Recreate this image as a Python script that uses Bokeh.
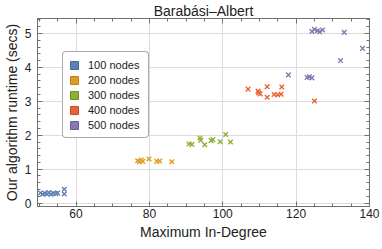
from bokeh.plotting import figure
from bokeh.models import (Range1d, FixedTicker, LinearAxis, Legend, LegendItem,
                          ColumnDataSource)
from bokeh.embed import file_html
from bokeh.resources import INLINE

# ---------------- data ----------------
series_labels = ["100 nodes", "200 nodes", "300 nodes", "400 nodes", "500 nodes"]
series_colors = ["#5E81B5", "#E19C24", "#8FB032", "#EB6235", "#8778B3"]
swatch_edges = ["#4A6A99", "#B97F1C", "#728D28", "#C14F2A", "#6C5F92"]

x100 = [50.3, 50.9, 51.5, 52.1, 52.6, 53.2, 53.8, 54.5, 55.0, 56.8, 56.8]
y100 = [0.30, 0.26, 0.29, 0.27, 0.31, 0.26, 0.29, 0.28, 0.30, 0.41, 0.27]

x200 = [76.8, 77.3, 77.8, 78.2, 79.9, 82.0, 82.8, 86.1]
y200 = [1.25, 1.22, 1.27, 1.23, 1.30, 1.23, 1.24, 1.22]

x300 = [90.8, 91.6, 93.8, 94.0, 95.1, 96.8, 97.3, 99.3, 100.8, 102.1]
y300 = [1.74, 1.73, 1.92, 1.85, 1.72, 1.84, 1.87, 1.81, 2.02, 1.80]

x400 = [106.9, 109.6, 109.8, 110.2, 112.1, 112.1, 114.0, 115.0, 115.9, 116.1, 125.0]
y400 = [3.36, 3.30, 3.25, 3.22, 3.43, 3.12, 3.20, 3.19, 3.21, 3.42, 3.01]

x500 = [117.9, 123.0, 123.6, 124.3, 124.3, 125.0, 125.8, 126.4, 127.2, 133.1, 132.1, 138.1]
y500 = [3.78, 3.70, 3.72, 3.69, 5.06, 5.12, 5.08, 5.05, 5.10, 5.03, 4.20, 4.56]

xs = [x100, x200, x300, x400, x500]
ys = [y100, y200, y300, y400, y500]

x_major = [60, 80, 100, 120, 140]
x_minor = list(range(50, 141, 5))
y_major = [0, 1, 2, 3, 4, 5]
y_minor = [round(i * 0.2, 1) for i in range(0, 28)]

title_text = "Barabási–Albert"
x_label = "Maximum In-Degree"
y_label = "Our algorithm runtime (secs)"

FONT = "Liberation Sans"
W, H = 382, 249
BL, BR, BT, BB = 35, 13, 17, 43
AXC = "#707070"

p = figure(width=W, height=H,
           min_border_left=BL, min_border_right=BR, min_border_top=BT,
           min_border_bottom=BB,
           x_range=Range1d(49.5, 140), y_range=Range1d(-0.1, 5.44),
           output_backend="svg", toolbar_location=None,
           title=title_text,
           x_axis_label=x_label, y_axis_label=y_label)
p.background_fill_color = "white"
p.border_fill_color = "white"
p.outline_line_color = AXC
p.outline_line_width = 1

p.title.align = "center"
p.title.text_font = FONT
p.title.text_font_size = "14px"
p.title.text_font_style = "normal"
p.title.text_color = "#222222"
p.title.standoff = 0
p.title.offset = 0

xt = FixedTicker(ticks=x_major, minor_ticks=x_minor)
yt = FixedTicker(ticks=y_major, minor_ticks=y_minor)


def style_axis(ax, labels=True):
    ax.axis_line_color = AXC
    ax.major_tick_line_color = AXC
    ax.minor_tick_line_color = AXC
    ax.major_tick_in = 5
    ax.major_tick_out = 0
    ax.minor_tick_in = 3
    ax.minor_tick_out = 0
    if labels:
        ax.major_label_text_font = FONT
        ax.major_label_text_font_size = "12px"
        ax.major_label_text_color = "#222222"
        ax.axis_label_text_font = FONT
        ax.axis_label_text_font_size = "14px"
        ax.axis_label_text_font_style = "normal"
        ax.axis_label_text_color = "#222222"


for ax in p.xaxis:
    ax.ticker = xt
    style_axis(ax)
    ax.major_label_standoff = 2
    ax.axis_label_standoff = 3
for ax in p.yaxis:
    ax.ticker = yt
    style_axis(ax)
    ax.major_label_standoff = 6
    ax.axis_label_standoff = 2

top_ax = LinearAxis(ticker=xt, major_label_overrides={t: "" for t in x_major},
                    major_label_text_font_size="1px", major_label_standoff=0)
style_axis(top_ax, labels=False)
right_ax = LinearAxis(ticker=yt, major_label_overrides={t: "" for t in y_major},
                      major_label_text_font_size="1px", major_label_standoff=0)
style_axis(right_ax, labels=False)
p.add_layout(top_ax, "above")
p.add_layout(right_ax, "right")

p.xgrid.ticker = xt
p.ygrid.ticker = yt
p.xgrid.grid_line_color = "#dcdcdc"
p.ygrid.grid_line_color = "#dcdcdc"

# points
for x, y, c in zip(xs, ys, series_colors):
    p.scatter(x=x, y=y, marker="x", size=6.5, line_color=c, line_width=1.4)

# legend swatches (area renderers with a single undrawn NaN row, used only for the legend)
nan = float("nan")
items = []
for lab, c, e in zip(series_labels, series_colors, swatch_edges):
    src = ColumnDataSource(data=dict(l=[nan], r=[nan], b=[nan], t=[nan]))
    r = p.quad(left="l", right="r", bottom="b", top="t", source=src,
               fill_color=c, line_color=e, line_width=1)
    items.append(LegendItem(label=lab, renderers=[r], index=0))

legend = Legend(items=items, location=(25, 68), margin=0, padding=6,
                spacing=2, glyph_width=10, glyph_height=10, label_height=13,
                label_width=54, label_standoff=9, label_text_font=FONT,
                label_text_font_size="11px", label_text_color="#222222",
                border_line_color="#555555", border_line_width=1.5,
                background_fill_color="white", background_fill_alpha=1)
try:
    legend.border_radius = 4
except Exception:
    pass
p.add_layout(legend)

open("out.html", "w").write(file_html(p, INLINE))
